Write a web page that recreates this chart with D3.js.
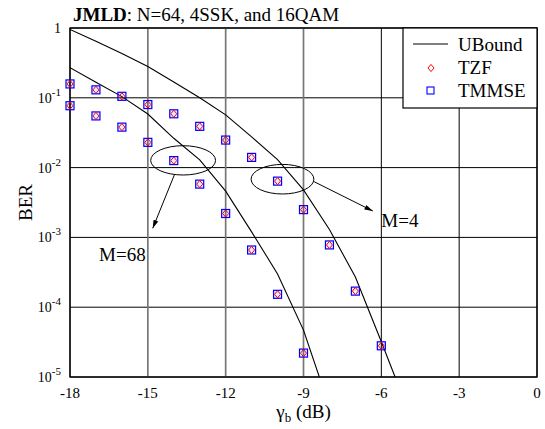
<!DOCTYPE html>
<meta charset='utf-8'>
<style>
  body { margin: 0; background: #fff; }
  .grid line { stroke: #000; stroke-width: 1; }
  .curve { fill: none; stroke: #000; stroke-width: 1.1; }
  .tzf { fill: none; stroke: #ff0000; stroke-width: 1; }
  .tmmse { fill: rgba(0,0,255,0.08); stroke: #0000ff; stroke-width: 1.2; }
  .note { fill: none; stroke: #000; stroke-width: 1; }
</style>
<body>
<div id='viz'></div>
<script src='https://d3js.org/d3.v7.min.js'></script>
<script>

// Eb/N0 grid of the simulated points (dB)
var snr = [-18, -17, -16, -15, -14, -13, -12, -11, -10, -9, -8, -7, -6];

// simulated BER, M=4 group (upper set)
var tzfM4   = [0.158, 0.13, 0.105, 0.08, 0.059, 0.039, 0.0248, 0.014, 0.0064, 0.0025, 7.8e-4, 1.7e-4, 2.8e-5];
var tmmseM4 = [0.158, 0.13, 0.105, 0.08, 0.059, 0.039, 0.0248, 0.014, 0.0064, 0.0025, 7.8e-4, 1.7e-4, 2.8e-5];

// simulated BER, M=68 group (lower set)
var snr68    = [-18, -17, -16, -15, -14, -13, -12, -11, -10, -9];
var tzfM68   = [0.077, 0.055, 0.038, 0.023, 0.0126, 0.0058, 0.0022, 6.6e-4, 1.53e-4, 2.2e-5];
var tmmseM68 = [0.077, 0.055, 0.038, 0.023, 0.0126, 0.0058, 0.0022, 6.6e-4, 1.53e-4, 2.2e-5];

// analytical upper bounds
var ubM4x = [-18, -17, -16, -15, -14, -13, -12, -11, -10, -9, -8, -7, -6, -5.47];
var ubM4y = [0.955, 0.645, 0.43, 0.28, 0.168, 0.1, 0.057, 0.0275, 0.013, 0.0048, 0.0013, 2.7e-4, 3.2e-5, 1e-5];
var ubM68x = [-18, -17, -16, -15, -14, -13, -12, -11, -10, -9, -8.39];
var ubM68y = [0.27, 0.167, 0.104, 0.0586, 0.0263, 0.0129, 0.0046, 0.0012, 3.0e-4, 4.7e-5, 1e-5];

var xTicks = [-18, -15, -12, -9, -6, -3, 0];
var yTicks = [1, 1e-1, 1e-2, 1e-3, 1e-4, 1e-5];

var margin = {top: 28, right: 8, bottom: 52, left: 70},
    width = 545 - margin.left - margin.right,
    height = 429 - margin.top - margin.bottom;

var x = d3.scaleLinear().domain([-18, 0]).range([0, width]);
var y = d3.scaleLog().domain([1e-5, 1]).range([height, 0]);

var svg = d3.select('#viz').append('svg')
    .attr('width', 545)
    .attr('height', 429);

svg.append('defs').append('clipPath').attr('id', 'clip')
  .append('rect').attr('width', width).attr('height', height);

var arrow = svg.select('defs').append('marker')
    .attr('id', 'arrow')
    .attr('viewBox', '0 0 10 6')
    .attr('refX', 10).attr('refY', 3)
    .attr('markerWidth', 9).attr('markerHeight', 5)
    .attr('markerUnits', 'userSpaceOnUse')
    .attr('orient', 'auto');
arrow.append('path').attr('d', 'M0,0L10,3L0,6Z').attr('fill', '#000');

var g = svg.append('g')
    .attr('transform', 'translate(' + margin.left + ',' + margin.top + ')');

// title
var title = svg.append('text')
    .attr('x', 73).attr('y', 21)
    .attr('font-size', 19);
title.append('tspan').attr('font-weight', 'bold').text('JMLD');
title.append('tspan').text(': N=64, 4SSK, and 16QAM');

// grid
var grid = g.append('g').attr('class', 'grid');
grid.selectAll('.h').data(yTicks).enter().append('line')
    .attr('x1', 0).attr('x2', width)
    .attr('y1', function(d) { return y(d); })
    .attr('y2', function(d) { return y(d); });
grid.selectAll('.v').data(xTicks).enter().append('line')
    .attr('y1', 0).attr('y2', height)
    .attr('x1', function(d) { return x(d); })
    .attr('x2', function(d) { return x(d); })
    // the left three look grey and wider in the original
    .style('stroke', function(d) { return d >= -15 && d <= -9 ? '#777' : '#000'; })
    .style('stroke-width', function(d) { return d >= -15 && d <= -9 ? 1.7 : 1; });

// frame
g.append('rect')
    .attr('width', width).attr('height', height)
    .attr('fill', 'none').attr('stroke', '#000').attr('stroke-width', 1.3);

// x axis labels
g.selectAll('.xt').data(xTicks).enter().append('text')
    .attr('x', function(d) { return x(d); })
    .attr('y', height + 21)
    .attr('text-anchor', 'middle')
    .attr('font-size', 15)
    .text(function(d) { return d; });

// y axis labels
var yl = g.selectAll('.yt').data(yTicks).enter().append('text')
    .attr('x', -9)
    .attr('y', function(d) { return y(d) + 5; })
    .attr('text-anchor', 'end')
    .attr('font-size', 14);
yl.each(function(d) {
  var t = d3.select(this);
  if (d === 1) { t.text('1'); return; }
  t.append('tspan').text('10');
  t.append('tspan').attr('font-size', 11).attr('dy', -7)
    .text(String(Math.round(Math.log10(d))));
});

// axis titles
var xl = svg.append('text')
    .attr('x', margin.left + width / 2)
    .attr('y', 418)
    .attr('text-anchor', 'middle')
    .attr('font-size', 19);
xl.append('tspan').text('\u03b3');
xl.append('tspan').attr('font-size', 13).attr('dy', 4).text('b');
xl.append('tspan').attr('dy', -4).text(' (dB)');

svg.append('text')
    .attr('transform', 'translate(32,' + (margin.top + height / 2) + ') rotate(-90)')
    .attr('text-anchor', 'middle')
    .attr('font-size', 19)
    .text('BER');

// bound curves
var line = d3.line()
    .x(function(d) { return x(d[0]); })
    .y(function(d) { return y(d[1]); });
var plot = g.append('g').attr('clip-path', 'url(#clip)');
[[ubM4x, ubM4y], [ubM68x, ubM68y]].forEach(function(c) {
  plot.append('path')
      .attr('class', 'curve')
      .attr('d', line(d3.zip(c[0], c[1])));
});

// markers
function squares(xs, ys) {
  g.append('g').selectAll('rect').data(d3.zip(xs, ys)).enter().append('rect')
      .attr('class', 'tmmse')
      .attr('x', function(d) { return x(d[0]) - 4; })
      .attr('y', function(d) { return y(d[1]) - 4; })
      .attr('width', 8).attr('height', 8);
}
function diamonds(xs, ys) {
  g.append('g').selectAll('path').data(d3.zip(xs, ys)).enter().append('path')
      .attr('class', 'tzf')
      .attr('d', 'M0,-3.6L3,0L0,3.6L-3,0Z')
      .attr('transform', function(d) { return 'translate(' + x(d[0]) + ',' + y(d[1]) + ')'; });
}
squares(snr, tmmseM4);
squares(snr68, tmmseM68);
diamonds(snr, tzfM4);
diamonds(snr68, tzfM68);

// annotations: ellipse centre, half widths (dB, decades), arrow from/to
var notes = [
  {label: 'M=68', cx: -13.64, cy: 0.0127, rdb: 1.25, rdec: 0.21,
   from: [-13.98, 0.00783], to: [-14.81, 0.00135], tx: -16.88, ty: 4.6e-4},
  {label: 'M=4', cx: -9.81, cy: 0.00682, rdb: 1.21, rdec: 0.212,
   from: [-8.59, 0.00628], to: [-6.33, 0.00239], tx: -6.0, ty: 1.42e-3}
];
notes.forEach(function(n) {
  g.append('ellipse')
      .attr('class', 'note')
      .attr('cx', x(n.cx)).attr('cy', y(n.cy))
      .attr('rx', x(n.cx + n.rdb) - x(n.cx))
      .attr('ry', y(n.cy / Math.pow(10, n.rdec)) - y(n.cy));
  g.append('line')
      .attr('class', 'note')
      .attr('x1', x(n.from[0])).attr('y1', y(n.from[1]))
      .attr('x2', x(n.to[0])).attr('y2', y(n.to[1]))
      .attr('marker-end', 'url(#arrow)');
  g.append('text')
      .attr('x', x(n.tx)).attr('y', y(n.ty))
      .attr('font-size', 19)
      .text(n.label);
});

// legend
var lg = svg.append('g').attr('transform', 'translate(403,28)');
lg.append('rect')
    .attr('width', 134).attr('height', 80)
    .attr('fill', '#fff').attr('stroke', '#000').attr('stroke-width', 1.2);
lg.append('line')
    .attr('x1', 10).attr('x2', 45).attr('y1', 16).attr('y2', 16)
    .attr('stroke', '#000').attr('stroke-width', 1.1);
lg.append('path')
    .attr('class', 'tzf')
    .attr('d', 'M0,-3.6L3,0L0,3.6L-3,0Z')
    .attr('transform', 'translate(28,40)');
lg.append('rect')
    .attr('x', 24).attr('y', 59).attr('width', 7).attr('height', 7)
    .attr('fill', 'none').attr('stroke', '#0000ff').attr('stroke-width', 1.1);
lg.selectAll('.lt').data(['UBound', 'TZF', 'TMMSE']).enter().append('text')
    .attr('x', 55)
    .attr('y', function(d, i) { return 23 + i * 23; })
    .attr('font-size', 19)
    .text(function(d) { return d; });

// set the serif face on every text node directly
svg.selectAll('text').style('font-family', "'Liberation Serif'");

</script>
</body>
